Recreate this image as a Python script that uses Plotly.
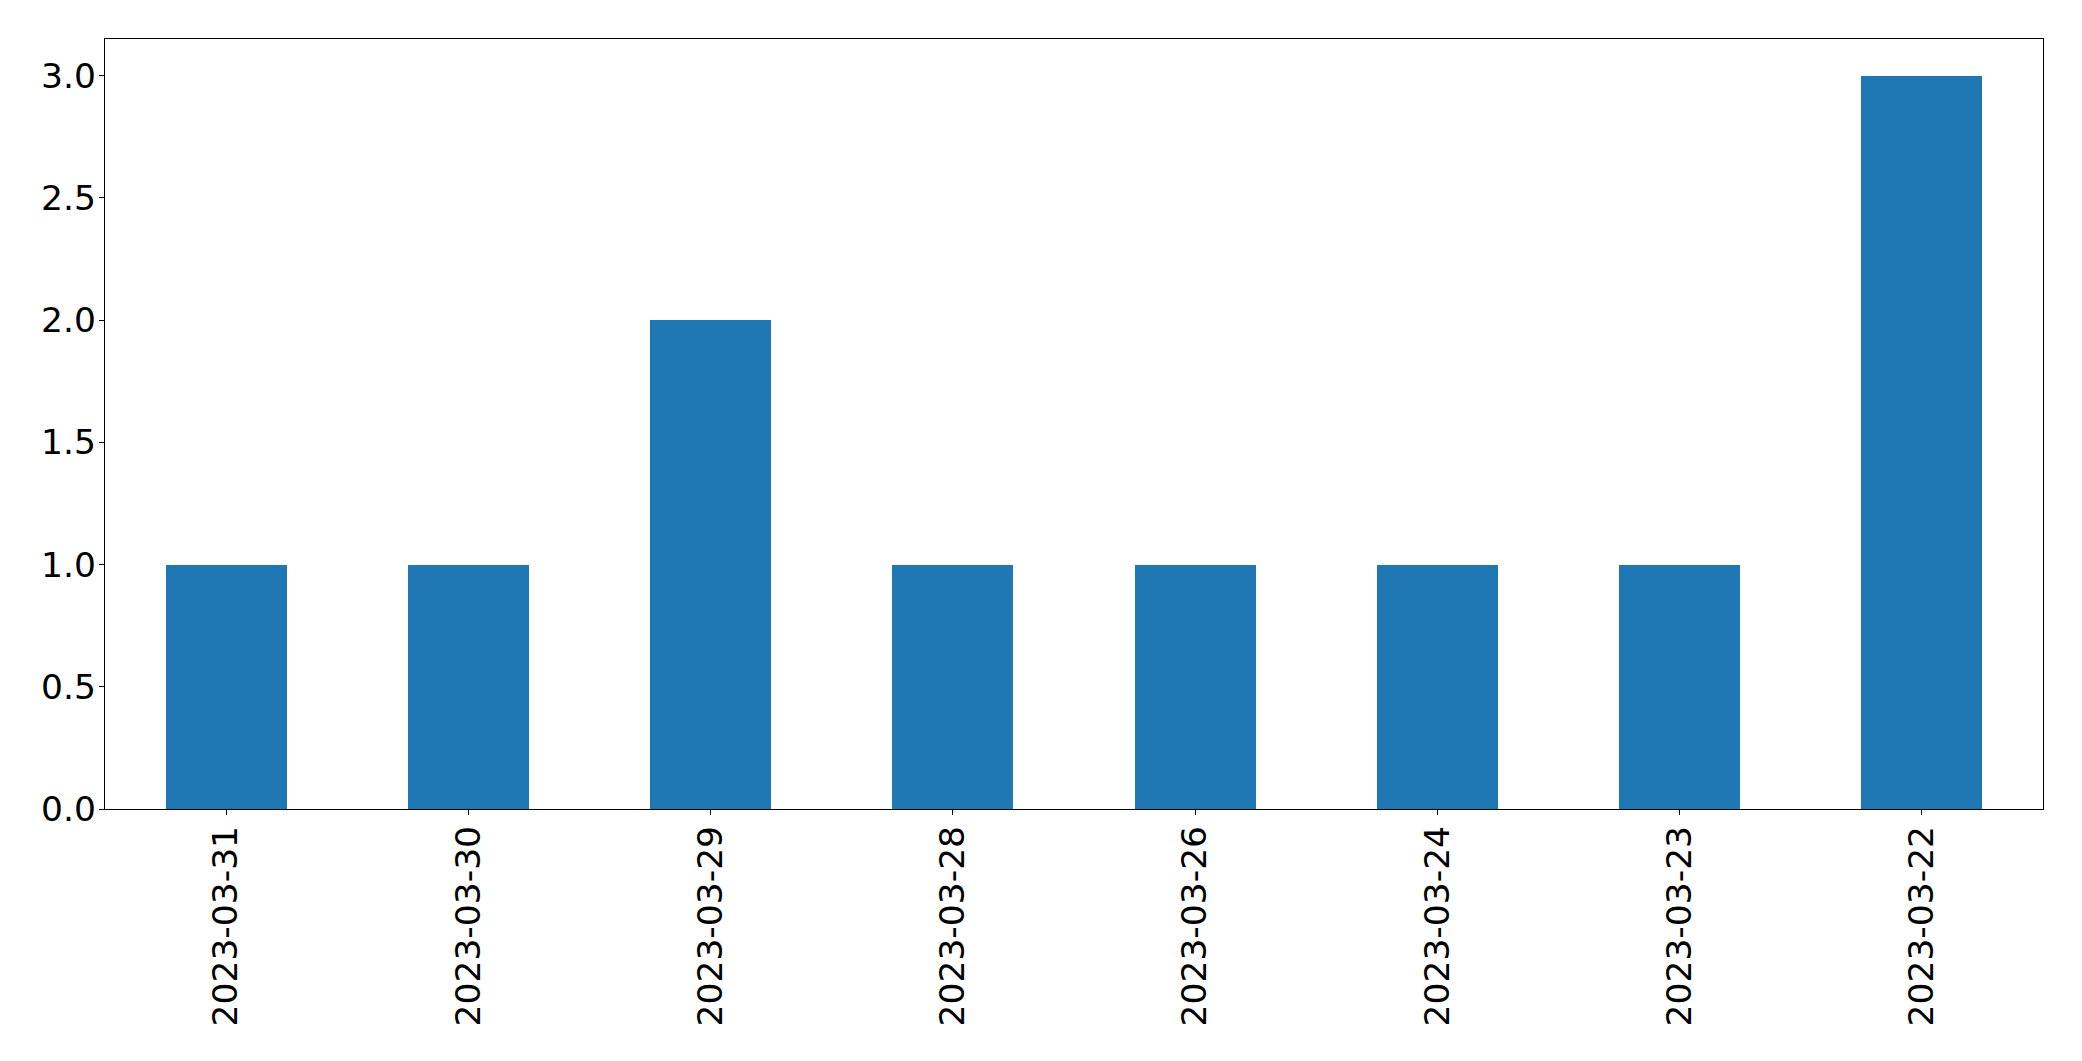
import plotly.graph_objects as go

dates = ["2023-03-31", "2023-03-30", "2023-03-29", "2023-03-28",
         "2023-03-26", "2023-03-24", "2023-03-23", "2023-03-22"]
counts = [1, 1, 2, 1, 1, 1, 1, 3]
y_ticks = [0.0, 0.5, 1.0, 1.5, 2.0, 2.5, 3.0]

fig = go.Figure(go.Bar(x=dates, y=counts, width=0.5,
                       marker=dict(color="#1f77b4", line=dict(width=0))))

font = dict(family="DejaVu Sans", size=34.5, color="black")
# page body has an 8px margin, so the figure is 16px smaller and margins shifted
fig.update_layout(
    width=2066, height=1045,
    margin=dict(l=97, r=31, t=31, b=244, pad=0),
    paper_bgcolor="white", plot_bgcolor="white",
    showlegend=False, bargap=0,
    font=font,
)
fig.update_xaxes(type="category", range=[-0.5, len(dates) - 0.5],
                 showline=True, mirror=True, linecolor="black", linewidth=1.3,
                 ticks="outside", ticklen=5, tickwidth=1.3, tickcolor="black",
                 tickangle=-90, showgrid=False, zeroline=False,
                 tickfont=font, ticklabelstandoff=-3)
fig.update_yaxes(range=[0, 3.15], tickvals=y_ticks,
                 ticktext=[f"{v:.1f}" for v in y_ticks],
                 showline=True, mirror=True, linecolor="black", linewidth=1.3,
                 ticks="outside", ticklen=5, tickwidth=1.3, tickcolor="black",
                 showgrid=False, zeroline=False, tickfont=font,
                 ticklabelstandoff=-4)

fig.write_html("out.html")
